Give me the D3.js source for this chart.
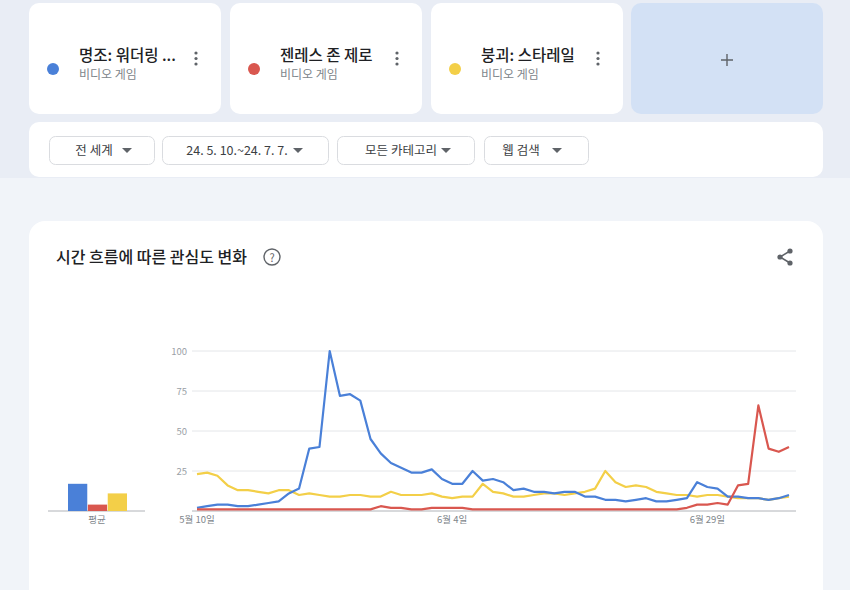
<!DOCTYPE html>
<html>
<head>
<meta charset="utf-8">
<script src="https://cdn.jsdelivr.net/npm/d3@7"></script>
<style>
  html, body { margin: 0; padding: 0; background: #f1f4f9; }
  svg { display: block; font-family: "Noto Sans CJK KR", "Noto Sans", sans-serif; }
</style>
</head>
<body>
<svg id="chart" width="850" height="590"></svg>
<script>
// search terms shown in the cards
const terms = ["명조: 워더링 ...", "젠레스 존 제로", "붕괴: 스타레일"];
const termType = "비디오 게임";
const colors = ["#4a80d8", "#d9574f", "#f3cf48"];
const filters = ["전 세계", "24. 5. 10.~24. 7. 7.", "모든 카테고리", "웹 검색"];

// daily interest, 2024-05-10 .. 2024-07-07
const startDay = new Date(2024, 4, 10);
const endDay = new Date(2024, 6, 8);
const wuthering = [2,3,4,4,3,3,4,5,6,11,14,39,40,100,72,73,69,45,36,30,27,24,24,26,20,17,17,25,19,20,
  18,13,14,12,12,11,12,12,9,9,7,7,6,7,8,6,6,7,8,18,15,14,9,9,8,8,7,8,10];
const zenless = [1,1,1,1,1,1,1,1,1,1,1,1,1,1,1,1,1,1,3,2,2,1,1,2,2,2,2,1,1,1,
  1,1,1,1,1,1,1,1,1,1,1,1,1,1,1,1,1,1,2,4,4,5,4,16,17,66,39,37,40];
const starrail = [23,24,22,16,13,13,12,11,13,13,10,11,10,9,9,10,10,9,9,12,10,10,10,11,9,8,9,9,17,12,
  11,9,9,10,11,11,10,11,12,14,25,18,15,16,15,12,11,10,10,9,10,10,9,8,8,8,7,8,9];
const averages = [17, 4, 11];
const yTicks = [0, 25, 50, 75, 100];
const xTickDays = [new Date(2024, 4, 10), new Date(2024, 5, 4), new Date(2024, 5, 29)];

const svg = d3.select("#chart");

// page backgrounds
svg.append("rect").attr("width", 850).attr("height", 590).attr("fill", "#f1f4f9");
svg.append("rect").attr("width", 850).attr("height", 178).attr("fill", "#e9edf5");

// ---- term cards ----
const cardX = [29, 230, 431];
terms.forEach((t, i) => {
  const g = svg.append("g").attr("transform", `translate(${cardX[i]},3)`);
  g.append("rect").attr("width", 192).attr("height", 111).attr("rx", 10).attr("fill", "#fff");
  g.append("circle").attr("cx", 24).attr("cy", 66).attr("r", 6).attr("fill", colors[i]);
  g.append("text").attr("x", 50).attr("y", 58).attr("font-size", 15.5).attr("font-weight", 500)
    .attr("fill", "#202124").text(t);
  g.append("text").attr("x", 50).attr("y", 76).attr("font-size", 12)
    .attr("fill", "#80868b").text(termType);
  // kebab menu
  [50, 55.5, 61].forEach(cy => {
    g.append("circle").attr("cx", 167).attr("cy", cy).attr("r", 1.6).attr("fill", "#5f6368");
  });
});

// add-term card
const addCard = svg.append("g").attr("transform", "translate(631,3)");
addCard.append("rect").attr("width", 192).attr("height", 111).attr("rx", 10).attr("fill", "#d3e1f5");
addCard.append("path").attr("d", "M90,57h12M96,51v12").attr("stroke", "#5f6368").attr("stroke-width", 1.4);

// ---- filter bar ----
svg.append("rect").attr("x", 29).attr("y", 122).attr("width", 794).attr("height", 55)
  .attr("rx", 10).attr("fill", "#fff");
const btnX = [49, 162, 337, 484];
const btnW = [105, 166, 137, 104];
const labelMid = [94, 237, 401, 521];   // text centre
const arrowMid = [127, 298, 446, 557];  // dropdown arrow centre
filters.forEach((f, i) => {
  svg.append("rect").attr("x", btnX[i] + 0.5).attr("y", 136.5).attr("width", btnW[i]).attr("height", 28)
    .attr("rx", 6).attr("fill", "#fff").attr("stroke", "#dadce0");
  svg.append("text").attr("x", labelMid[i]).attr("y", 155).attr("text-anchor", "middle")
    .attr("font-size", 12.5).attr("fill", "#3c4043").text(f);
  svg.append("path").attr("d", `M${arrowMid[i] - 5},148h10l-5,5z`).attr("fill", "#5f6368");
});

// ---- chart card ----
svg.append("rect").attr("x", 29).attr("y", 221).attr("width", 794).attr("height", 400)
  .attr("rx", 16).attr("fill", "#fff");
svg.append("text").attr("x", 56).attr("y", 263).attr("font-size", 16).attr("font-weight", 500)
  .attr("fill", "#202124").text("시간 흐름에 따른 관심도 변화");
svg.append("circle").attr("cx", 272).attr("cy", 257).attr("r", 8).attr("fill", "none")
  .attr("stroke", "#5f6368").attr("stroke-width", 1.4);
svg.append("text").attr("x", 272).attr("y", 261.5).attr("text-anchor", "middle").attr("font-size", 11)
  .attr("fill", "#5f6368").text("?");

// share icon
const share = svg.append("g").attr("fill", "#5f6368").attr("stroke", "#5f6368");
share.append("path").attr("d", "M790,251L780,257L790,263").attr("fill", "none").attr("stroke-width", 1.5);
[[790, 251], [780, 257], [790, 263]].forEach(p => {
  share.append("circle").attr("cx", p[0]).attr("cy", p[1]).attr("r", 2.6).attr("stroke", "none");
});

// ---- scales ----
const days = d3.timeDay.range(startDay, endDay);
const x = d3.scaleTime().domain([days[0], days[days.length - 1]]).range([197, 789]);
const y = d3.scaleLinear().domain([0, 100]).range([511, 351]);

// gridlines + y labels
const grid = svg.append("g");
grid.selectAll("line").data(yTicks).join("line")
  .attr("x1", 192).attr("x2", 796)
  .attr("y1", d => y(d)).attr("y2", d => y(d))
  .attr("stroke", d => d === 0 ? "#b0b3b8" : "#e4e6e9").attr("stroke-width", 1);
grid.selectAll("text").data(yTicks.filter(d => d > 0)).join("text")
  .attr("x", 187).attr("y", d => y(d) + 3.5).attr("text-anchor", "end")
  .attr("font-size", 9.5).attr("fill", "#9aa0a6").text(d => d);

// x labels
const fmt = d => `${d.getMonth() + 1}월 ${d.getDate()}일`;
svg.append("g").selectAll("text").data(xTickDays).join("text")
  .attr("x", d => x(d)).attr("y", 523).attr("text-anchor", "middle")
  .attr("font-size", 9.5).attr("fill", "#80868b").text(fmt);

// lines
const line = d3.line().x((d, i) => x(days[i])).y(d => y(d)).curve(d3.curveLinear);
[[starrail, 2], [wuthering, 0], [zenless, 1]].forEach(([s, c]) => {
  svg.append("path").datum(s).attr("d", line).attr("fill", "none")
    .attr("stroke", colors[c]).attr("stroke-width", 2.2).attr("stroke-linejoin", "round");
});

// ---- averages ----
const xb = d3.scaleBand().domain(d3.range(3)).range([68, 127]).paddingInner(0.03);
svg.append("line").attr("x1", 48).attr("x2", 145).attr("y1", y(0)).attr("y2", y(0))
  .attr("stroke", "#b0b3b8");
svg.append("g").selectAll("rect").data(averages).join("rect")
  .attr("x", (d, i) => xb(i)).attr("width", xb.bandwidth())
  .attr("y", d => y(d)).attr("height", d => y(0) - y(d))
  .attr("fill", (d, i) => colors[i]);
svg.append("text").attr("x", 97).attr("y", 523).attr("text-anchor", "middle")
  .attr("font-size", 9.5).attr("fill", "#80868b").text("평균");
</script>
</body>
</html>
